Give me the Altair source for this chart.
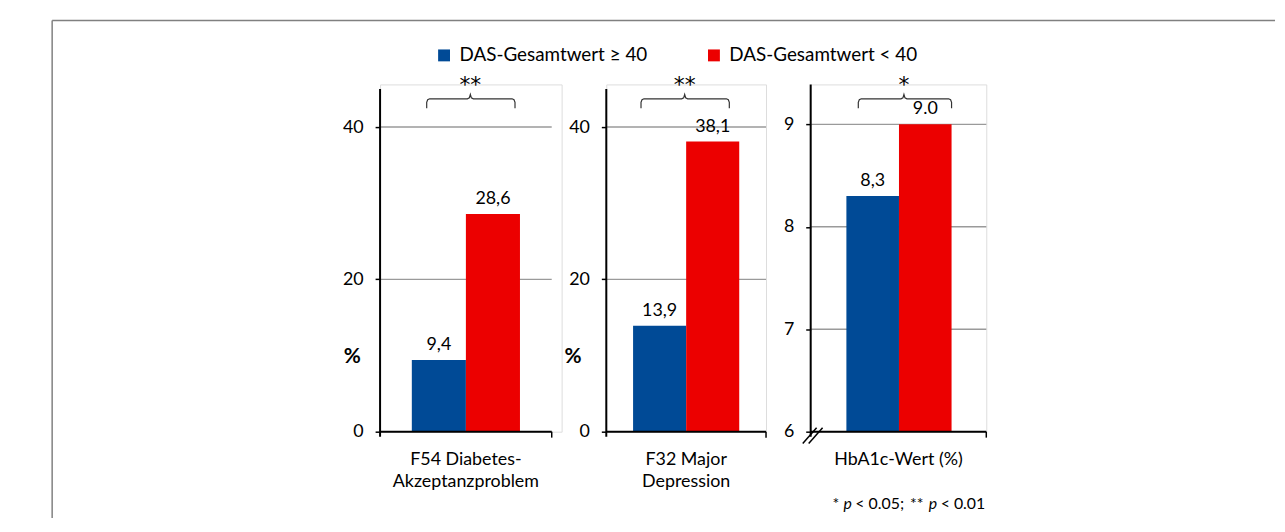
import altair as alt
import pandas as pd

# ---------------- data ----------------
series = ["DAS-Gesamtwert ≥ 40", "DAS-Gesamtwert < 40"]
colors = ["#004A96", "#EC0000"]

categories = [["F54 Diabetes-", "Akzeptanzproblem"], ["F32 Major", "Depression"], ["HbA1c-Wert (%)"]]
vals_ge40 = [9.4, 13.9, 8.3]
vals_lt40 = [28.6, 38.1, 9.0]
labels_ge40 = ["9,4", "13,9", "8,3"]
labels_lt40 = ["28,6", "38,1", "9.0"]
significance = ["**", "**", "*"]
y_ticks = [[0, 20, 40], [0, 20, 40], [6, 7, 8, 9]]
y_domains = [[0, 45.6], [0, 45.6], [6, 9.39]]
y_axis_top = [45, 45, 9.39]
footnote = [("*", "normal"), ("p", "italic"), ("< 0.05;", "normal"), ("**", "normal"),
            ("p", "italic"), ("< 0.01", "normal")]

# ---------------- layout ----------------
FONT = "Lato"
PLOT_H = 350
plot_w = [183, 161, 177]
vis_w = [173, 161, 177]
bar_left = [32, 27, 36]
bar_w = [54.5, 53.5, 53]
brackets = [(47, 91, 136), (35, 79, 124), (48, 94, 142)]
pct_x = [-28, -33.5, None]
foot_x = [22, 33, 45, 100, 119, 131]

legend = alt.Legend(orient="none", legendX=55, legendY=-39, direction="horizontal", title=None,
                    symbolType="square", symbolSize=144, symbolStrokeWidth=0, labelFontSize=19,
                    labelFont=FONT, labelColor="black", labelOffset=6, labelLimit=0, columnPadding=57)

one = pd.DataFrame({"d": [0]})


def panel(i):
    ymin, ymax = y_domains[i]

    def py(v):
        return PLOT_H - (v - ymin) / (ymax - ymin) * PLOT_H

    def dv(p):
        return ymax - p / PLOT_H * (ymax - ymin)

    xs = alt.Scale(domain=[0, plot_w[i]], nice=False, zero=False)
    ys = alt.Scale(domain=y_domains[i], nice=False, zero=False)
    yax = alt.Axis(values=y_ticks[i], grid=False, domain=False, ticks=True, tickColor="black",
                   tickSize=5, tickWidth=1.5, labelPadding=12, labelFontSize=18, labelFont=FONT,
                   labelColor="black", title=None)

    vals = [vals_ge40[i], vals_lt40[i]]
    labs = [labels_ge40[i], labels_lt40[i]]
    x0 = [bar_left[i] + k * bar_w[i] for k in range(2)]
    df = pd.DataFrame({
        "series": series, "value": vals, "label": labs, "base": [ymin, ymin],
        "x0": x0, "x1": [x + bar_w[i] for x in x0], "xc": [x + bar_w[i] / 2 for x in x0],
    })

    grid_df = pd.DataFrame({"gv": [t for t in y_ticks[i] if t != ymin]})
    grid = alt.Chart(grid_df).mark_rule(color="#9a9a9a", strokeWidth=1.5).encode(
        x=alt.value(0), x2=alt.value(vis_w[i]), y=alt.Y("gv:Q", scale=ys, axis=yax))

    bars = alt.Chart(df).mark_rect().encode(
        x=alt.X("x0:Q", scale=xs, axis=None), x2="x1",
        y=alt.Y("value:Q", scale=ys, axis=yax), y2="base",
        color=alt.Color("series:N", scale=alt.Scale(domain=series, range=colors), legend=legend))

    text = alt.Chart(df).mark_text(dy=-10, baseline="alphabetic", fontSize=18, font=FONT, color="black").encode(
        x=alt.X("xc:Q", scale=xs, axis=None), y=alt.Y("value:Q", scale=ys, axis=yax), text="label:N")

    yline = alt.Chart(one).mark_rule(color="black", strokeWidth=2).encode(
        x=alt.value(0), y=alt.value(py(y_axis_top[i])), y2=alt.value(PLOT_H + 5))
    xline = alt.Chart(one).mark_rule(color="black", strokeWidth=2).encode(
        x=alt.value(0), x2=alt.value(vis_w[i]), y=alt.value(PLOT_H))
    xtick = alt.Chart(one).mark_rule(color="black", strokeWidth=1.5).encode(
        x=alt.value(vis_w[i]), y=alt.value(PLOT_H), y2=alt.value(PLOT_H + 6))

    L, P, R = brackets[i]
    pts = [(L, 24), (L, 18), (L + 1, 15.5), (L + 3, 14.5), (P - 3, 14.5), (P - 1, 13.5), (P, 10),
           (P + 1, 13.5), (P + 3, 14.5), (R - 3, 14.5), (R - 1, 15.5), (R, 18), (R, 24)]
    bdf = pd.DataFrame({"bx": [p[0] for p in pts], "by": [dv(p[1]) for p in pts], "o": list(range(len(pts)))})
    bracket = alt.Chart(bdf).mark_line(color="#333333", strokeWidth=1.2).encode(
        x=alt.X("bx:Q", scale=xs, axis=None), y=alt.Y("by:Q", scale=ys, axis=yax), order="o:Q")
    star = alt.Chart(one).mark_text(text=significance[i], fontSize=22, font="DejaVu Sans", baseline="alphabetic",
                                    color="black").encode(x=alt.value(P), y=alt.value(8))

    xlab = alt.Chart(one).mark_text(text=categories[i], fontSize=18, font=FONT, baseline="alphabetic",
                                    lineHeight=22, color="black").encode(
        x=alt.value(vis_w[i] / 2), y=alt.value(384))

    layers = [grid, bars, yline, xline, xtick, text, bracket, star, xlab]

    if pct_x[i] is not None:
        layers.append(alt.Chart(one).mark_text(text="%", fontSize=21, fontWeight="bold", font=FONT,
                                               baseline="middle", color="black").encode(
            x=alt.value(pct_x[i]), y=alt.value(275)))

    if i == 0:
        layers.append(alt.Chart(one).mark_rule(color="#808080", strokeWidth=1.5).encode(
            x=alt.value(-330.5), y=alt.value(-64.5), y2=alt.value(437)))
        layers.append(alt.Chart(one).mark_rule(color="#808080", strokeWidth=1.5).encode(
            x=alt.value(-330.5), x2=alt.value(902), y=alt.value(-64.5)))

    if i == 2:
        for (ax, ay, bx, by) in [(-8, 362, 6, 346), (-2, 362, 12, 346)]:
            layers.append(alt.Chart(one).mark_rule(color="black", strokeWidth=1.5).encode(
                x=alt.value(ax), y=alt.value(ay), x2=alt.value(bx), y2=alt.value(by)))
        for (txt, style), fx in zip(footnote, foot_x):
            layers.append(alt.Chart(one).mark_text(text=txt, fontSize=16, font=FONT, fontStyle=style,
                                                   align="left", baseline="alphabetic", color="black").encode(
                x=alt.value(fx), y=alt.value(428)))

    return alt.layer(*layers).properties(width=plot_w[i], height=PLOT_H)


chart = alt.hconcat(panel(0), panel(1), panel(2), spacing=45, bounds="flush").properties(
    padding={"left": 43, "top": 9, "right": 0, "bottom": 0}
).configure_view(stroke=None).configure(font=FONT, background="white")

chart.save("out.html", embed_options={"renderer": "svg", "actions": False})
